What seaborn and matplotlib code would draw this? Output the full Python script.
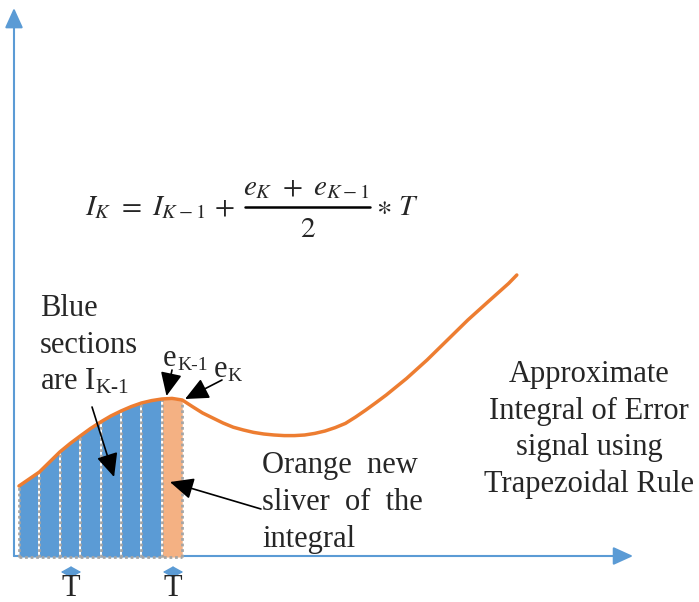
import numpy as np
import pandas as pd
import seaborn as sns
import matplotlib.pyplot as plt

# error signal e(k) (k in units of the sample period T)
k_vals = [0, 0.5, 1, 1.5, 2, 2.5, 3, 3.5, 4, 4.5, 5, 5.5, 6, 6.5, 7, 7.5, 8, 8.5,
          9, 9.5, 10, 10.5, 11, 11.5, 12, 12.5, 13, 13.5, 14, 14.5, 15, 15.5, 16,
          16.5, 17, 17.5, 18, 19, 20, 21, 22, 23, 24, 24.4]
e_vals = [3.55, 3.9, 4.25, 4.75, 5.25, 5.67, 6.05, 6.42, 6.75, 7.05, 7.3, 7.52,
          7.7, 7.82, 7.9, 7.93, 7.85, 7.52, 7.2, 6.95, 6.7, 6.49, 6.35, 6.23, 6.15,
          6.1, 6.07, 6.07, 6.1, 6.18, 6.3, 6.47, 6.68, 7.0, 7.35, 7.72, 8.1, 8.93,
          9.85, 10.85, 11.85, 12.77, 13.68, 14.1]

n_blue = 7          # strips already summed into I_{K-1}
blue_label = ["Blue", "sections", r"are $\mathrm{I_{K\text{-}1}}$"]
orange_label = ["Orange  new", "sliver  of  the", "integral"]
right_label = ["Approximate", "Integral of Error", "signal using", "Trapezoidal Rule"]
eq_left = r"$I_K\,\, =\,\, I_{K-1}\, +$"
eq_num = r"$e_K\,\, +\,\, e_{K-1}$"
eq_den = r"$2$"
eq_right = r"$\ast\ T$"

BLUE = "#5B9BD5"
ORANGE = "#F4B183"
LINE = "#ED7D31"
GREY = "#A5A5A5"
FONT = "Liberation Serif"

sns.set_style("white")
plt.rcParams["font.family"] = [FONT, "DejaVu Serif"]
plt.rcParams["mathtext.fontset"] = "custom"
plt.rcParams["mathtext.rm"] = FONT
plt.rcParams["mathtext.it"] = FONT + ":italic"

df = pd.DataFrame({"k": k_vals, "e": e_vals})
samples = df[df["k"] % 1 == 0].reset_index(drop=True)

fig = plt.figure(figsize=(6.99, 6.02), dpi=100)
ax = fig.add_axes([0, 0, 1, 1])
ax.set_xlim(-0.931, 33.33)
ax.set_ylim(-2.25, 27.85)
ax.axis("off")

# trapezoid strips
sk = samples["k"].values
se = samples["e"].values
for i in range(n_blue + 1):
    col = BLUE if i < n_blue else ORANGE
    ax.fill_between(sk[i:i + 2], 0, se[i:i + 2], color=col, lw=0, zorder=2)
ex, ey = sk[:n_blue + 2], se[:n_blue + 2]
ax.vlines(ex[1:-1], 0, ey[1:-1], color="white", lw=1.4, zorder=3)
ax.vlines(ex, 0, ey, color=GREY, lw=2, linestyles=(0, (1, 1)), zorder=4)
ax.hlines(0, ex[0], ex[-1], color=GREY, lw=2, linestyles=(0, (1, 1)), zorder=4)

# axes arrows
ax_kw = dict(arrowstyle="-|>,head_length=1.1,head_width=0.5", color=BLUE, lw=1.5,
             mutation_scale=11, shrinkA=0, shrinkB=0)
ax.annotate("", xy=(-0.245, 27.45), xytext=(-0.245, 0.05), arrowprops=ax_kw, zorder=1)
ax.annotate("", xy=(30.1, 0.05), xytext=(-0.245, 0.05), arrowprops=ax_kw, zorder=1)

# error curve
sns.lineplot(data=df, x="k", y="e", ax=ax, color=LINE, lw=2.5, estimator=None,
             sort=False, zorder=6, solid_joinstyle="round", solid_capstyle="round")
ax.set_xlabel("")
ax.set_ylabel("")

# T markers
t_kw = dict(arrowstyle="<|-|>,head_length=0.9,head_width=0.5", color=BLUE, lw=1,
            mutation_scale=7, shrinkA=0, shrinkB=0)
for i in (2, n_blue):
    ax.annotate("", xy=(sk[i] + 0.05, -0.75), xytext=(sk[i + 1] + 0.05, -0.75),
                arrowprops=t_kw)
    ax.text((sk[i] + sk[i + 1]) / 2 + 0.05, -1.95, "T", ha="center",
            va="baseline", fontsize=22)

# black pointer arrows
p_kw = dict(arrowstyle="-|>,head_length=1.2,head_width=0.55", color="black", lw=1.2,
            mutation_scale=12, shrinkA=0, shrinkB=0)
ax.annotate("", xy=(4.66, 4.0), xytext=(3.58, 7.5), arrowprops=p_kw, zorder=8)
ax.annotate("", xy=(7.4, 3.75), xytext=(11.86, 2.4), arrowprops=p_kw, zorder=8)
ax.annotate("", xy=(7.23, 8.05), xytext=(7.5, 9.35), arrowprops=p_kw, zorder=8)
ax.annotate("", xy=(8.14, 7.9), xytext=(9.95, 8.85), arrowprops=p_kw, zorder=8)

# equation
eq_kw = dict(fontsize=21, va="baseline", math_fontfamily="stix")
ax.text(3.235, 17.1, eq_left, ha="left", **eq_kw)
ax.text(14.06, 18.1, eq_num, ha="center", **eq_kw)
ax.plot([11.08, 17.21], [17.49, 17.49], color="black", lw=1.8)
ax.text(14.17, 16.0, eq_den, ha="center", **eq_kw)
ax.text(17.5, 17.1, eq_right, ha="left", **eq_kw)

# labels
for j, s in enumerate(blue_label):
    ax.text(1.03, 12.05 - 1.85 * j, s, fontsize=22, ha="left", va="baseline")
for j, s in enumerate(orange_label):
    ax.text(11.91, 4.2 - 1.85 * j, s, fontsize=22, ha="left", va="baseline")
for j, s in enumerate(right_label):
    ax.text(27.94, 8.75 - 1.83 * j, s, fontsize=22, ha="center", va="baseline")
ax.text(7.06, 9.55, "e", fontsize=22, ha="left", va="baseline")
ax.text(7.75, 9.35, "K-1", fontsize=14, ha="left", va="baseline")
ax.text(9.56, 9.0, "e", fontsize=22, ha="left", va="baseline")
ax.text(10.2, 8.8, "K", fontsize=14, ha="left", va="baseline")

fig.savefig("out.png", dpi=100)
